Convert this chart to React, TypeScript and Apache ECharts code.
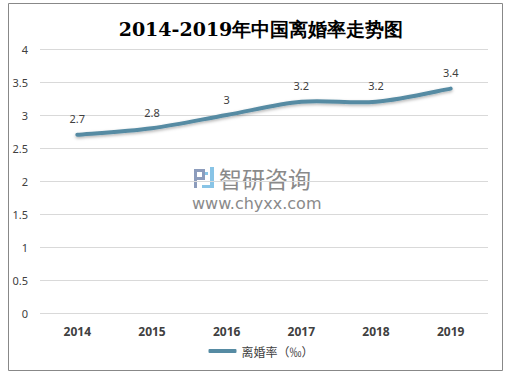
import React, { useEffect, useRef } from "react";
import * as echarts from "echarts";

const years = ["2014", "2015", "2016", "2017", "2018", "2019"];
const divorceRate = [2.7, 2.8, 3, 3.2, 3.2, 3.4];
const seriesName = "离婚率（‰）";
const titleText = "2014-2019年中国离婚率走势图";
const lineColor = "#568ba3";

export default function App() {
  const ref = useRef<HTMLDivElement>(null);
  useEffect(() => {
    const chart = echarts.init(ref.current!, null, { renderer: "svg" });
    const renderCurve = (params: any, api: any) => {
      if (params.dataIndex !== 0) return null;
      const pts = divorceRate.map((v, i) => api.coord([i, v]));
      const n = pts.length;
      const t = 1 / 6;
      let d = `M${pts[0][0]},${pts[0][1]}`;
      for (let i = 0; i < n - 1; i++) {
        const p0 = pts[Math.max(i - 1, 0)];
        const p1 = pts[i];
        const p2 = pts[i + 1];
        const p3 = pts[Math.min(i + 2, n - 1)];
        const c1x = p1[0] + (p2[0] - p0[0]) * t;
        const c1y = p1[1] + (p2[1] - p0[1]) * t;
        const c2x = p2[0] - (p3[0] - p1[0]) * t;
        const c2y = p2[1] - (p3[1] - p1[1]) * t;
        d += ` C${c1x},${c1y} ${c2x},${c2y} ${p2[0]},${p2[1]}`;
      }
      return {
        type: "path",
        shape: { pathData: d },
        style: {
          fill: null,
          stroke: lineColor,
          lineWidth: 4,
          lineCap: "round",
          lineJoin: "round",
          shadowColor: "rgba(0,0,0,0.3)",
          shadowBlur: 3,
          shadowOffsetY: 1.5,
        },
      };
    };
    chart.setOption({
      animation: false,
      backgroundColor: "#ffffff",
      title: {
        text: titleText,
        left: "center",
        top: 14,
        textStyle: { fontFamily: "DejaVu Serif, serif", fontSize: 19, fontWeight: "bold", color: "#000" },
      },
      grid: { left: 40, right: 34, top: 49, bottom: 66 },
      xAxis: {
        type: "category",
        data: years,
        axisLine: { show: false },
        axisTick: { show: false },
        axisLabel: { color: "#404040", fontWeight: "bold", fontSize: 12, margin: 12, fontFamily: "Noto Sans, sans-serif" },
      },
      yAxis: {
        type: "value",
        min: 0,
        max: 4,
        interval: 0.5,
        axisLine: { show: false },
        axisTick: { show: false },
        axisLabel: { color: "#404040", fontSize: 11, margin: 12, fontFamily: "Noto Sans, sans-serif" },
        splitLine: { lineStyle: { color: "#d9d9d9", width: 1 } },
      },
      legend: {
        bottom: 17,
        left: "center",
        itemWidth: 28,
        itemHeight: 4,
        itemGap: 5,
        textStyle: { color: "#404040", fontSize: 12, fontFamily: "Noto Sans CJK SC, sans-serif" },
        data: [{ name: seriesName, icon: "roundRect", itemStyle: { color: lineColor, opacity: 1 } }],
      },
      graphic: [
        {
          type: "rect",
          shape: { x: 8.5, y: 3.5, width: 494, height: 367 },
          style: { fill: "none", stroke: "#888", lineWidth: 1 },
          silent: true,
        },
        { type: "rect", shape: { x: 194, y: 169, width: 11, height: 3 }, style: { fill: "#8c9cbc" }, z: -1 },
        { type: "rect", shape: { x: 194, y: 169, width: 3, height: 19 }, style: { fill: "#8c9cbc" }, z: -1 },
        { type: "rect", shape: { x: 202, y: 169, width: 3, height: 10 }, style: { fill: "#8c9cbc" }, z: -1 },
        { type: "rect", shape: { x: 197, y: 177, width: 8, height: 3 }, style: { fill: "#8c9cbc" }, z: -1 },
        { type: "rect", shape: { x: 210, y: 167, width: 4, height: 21 }, style: { fill: "#88c4e6" }, z: -1 },
        { type: "rect", shape: { x: 202, y: 185, width: 12, height: 3 }, style: { fill: "#88c4e6" }, z: -1 },
        { type: "rect", shape: { x: 205, y: 172, width: 3, height: 3 }, style: { fill: "#88c4e6" }, z: -1 },
        {
          type: "text",
          x: 219,
          y: 178,
          style: { text: "智研咨询", fill: "#8a8a8a", font: "23px Noto Sans CJK SC, sans-serif", verticalAlign: "middle" },
          z: -1,
        },
        {
          type: "text",
          x: 192,
          y: 203,
          style: { text: "www.chyxx.com", fill: "#8a8a8a", font: "16px DejaVu Sans, sans-serif", verticalAlign: "middle" },
          z: -1,
        },
      ],
      series: [
        {
          name: seriesName,
          type: "line",
          data: divorceRate,
          symbol: "circle",
          symbolSize: 1,
          showSymbol: true,
          lineStyle: { width: 0, color: lineColor },
          itemStyle: { color: "rgba(0,0,0,0)" },
          label: {
            show: true,
            position: "top",
            distance: 10,
            color: "#404040",
            fontSize: 11,
            fontFamily: "Noto Sans, sans-serif",
          },
        },
        {
          type: "custom",
          renderItem: renderCurve,
          data: divorceRate.map((v, i) => [i, v]),
          encode: { x: 0, y: 1 },
          silent: true,
        },
      ],
    });
    return () => chart.dispose();
  }, []);
  return <div ref={ref} style={{ position: "absolute", left: 0, top: 0, width: 522, height: 379 }} />;
}
